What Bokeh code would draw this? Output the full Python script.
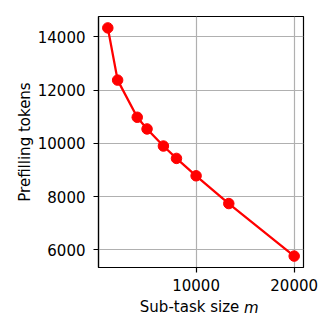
from bokeh.plotting import figure
from bokeh.models import FixedTicker, Label, Range1d
from bokeh.embed import file_html
from bokeh.resources import INLINE

# Data
sub_task_size = [1000, 2000, 4000, 5000, 6667, 8000, 10000, 13333, 20000]
prefill_tokens = [14340, 12377, 10981, 10541, 9899, 9434, 8780, 7736, 5761]
x_ticks = [0, 10000, 20000]
y_ticks = [6000, 8000, 10000, 12000, 14000]
x_label_main = "Sub-task size "
x_label_var = "m"
y_label = "Prefilling tokens"

FONT = "DejaVu Sans"


def padded(vals, frac=0.05):
    lo, hi = min(vals), max(vals)
    pad = (hi - lo) * frac
    return lo - pad, hi + pad


x0, x1 = padded(sub_task_size)
y0, y1 = padded(prefill_tokens)

p = figure(width=332, height=332, output_backend="svg", toolbar_location=None,
           x_range=Range1d(x0, x1), y_range=Range1d(y0, y1))
p.min_border_left = 98
p.min_border_right = 29
p.min_border_top = 16
p.min_border_bottom = 65
p.background_fill_color = "white"
p.border_fill_color = "white"
p.outline_line_color = "black"
p.outline_line_width = 1.2

for ax in (p.xaxis[0], p.yaxis[0]):
    ax.axis_line_color = "black"
    ax.axis_line_width = 1.2
    ax.major_tick_line_color = "black"
    ax.major_tick_line_width = 1.2
    ax.major_tick_out = 5
    ax.major_tick_in = 0
    ax.minor_tick_line_color = None
    ax.major_label_text_font = FONT
    ax.major_label_text_font_size = "15px"
    ax.major_label_text_color = "black"

p.xaxis.ticker = FixedTicker(ticks=x_ticks)
p.yaxis.ticker = FixedTicker(ticks=y_ticks)
p.xaxis.major_label_standoff = 6
p.yaxis.major_label_standoff = 8

p.yaxis.axis_label = y_label
p.yaxis.axis_label_text_font = FONT
p.yaxis.axis_label_text_font_size = "15px"
p.yaxis.axis_label_text_font_style = "normal"
p.yaxis.axis_label_text_color = "black"
p.yaxis.axis_label_standoff = 1

p.grid.grid_line_color = "#b0b0b0"
p.grid.grid_line_width = 1.2
p.xgrid.ticker = FixedTicker(ticks=x_ticks)
p.ygrid.ticker = FixedTicker(ticks=y_ticks)

p.line(sub_task_size, prefill_tokens, line_color="red", line_width=2.3)
p.scatter(sub_task_size, prefill_tokens, size=10.5, fill_color="red", line_color="red")

xmid = (x0 + x1) / 2
lab1 = Label(x=xmid, y=5, x_units="data", y_units="screen", text=x_label_main,
             text_font=FONT, text_font_size="15px", text_align="right",
             text_baseline="alphabetic", x_offset=43, text_color="black")
lab2 = Label(x=xmid, y=22, x_units="data", y_units="screen", text=x_label_var,
             text_font=FONT, text_font_size="15px", text_font_style="italic",
             text_align="left", text_baseline="alphabetic", x_offset=43,
             text_color="black")
p.add_layout(lab1, "below")
p.add_layout(lab2, "below")

open("out.html", "w").write(file_html(p, INLINE))
